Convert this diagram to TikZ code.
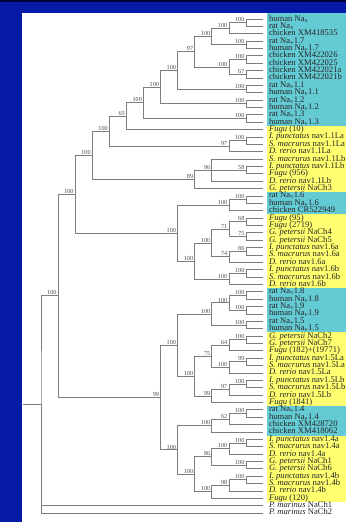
\documentclass[tikz,border=0pt]{standalone}
\usepackage{fontspec}
\setmainfont{Liberation Serif}
\usetikzlibrary{calc}

\definecolor{slideblue}{RGB}{6,26,168}
\definecolor{mammal}{RGB}{100,202,212}
\definecolor{fish}{RGB}{255,255,112}
\definecolor{branchgray}{RGB}{125,125,125}

\newcommand\Nav{Na\textsubscript{v}}
% clade: name, column, first child, last child, support
\newcommand\clade[5]{%
  \path let \p1=(#3), \p2=(#4) in coordinate (#1) at ({41+17.08*#2},{(\y1+\y2)/2});
  \draw[branch] (#3) -| (#1) |- (#4);
  \node[boot] at (#1) {#5};
}

\begin{document}
\begin{tikzpicture}[x=1pt, y=1pt,
    leaf/.style={anchor=west, inner xsep=6pt, inner ysep=0pt, outer sep=0pt,
      text height=5.5pt, text depth=1.5pt, font=\fontsize{8.6}{8.6}\selectfont, text=black!85},
    branch/.style={draw=branchgray, line width=0.75pt},
    boot/.style={anchor=south east, inner sep=0.6pt, xshift=-0.8pt,
      font=\fontsize{6.2}{6.2}\selectfont, text=black!70}]
    \useasboundingbox (0,0) rectangle (346,-522);

    % Draw the background
    \fill[slideblue] (0,0) rectangle (346,-522);
    \fill[black!80!blue] (0,0) rectangle (346,-1.5);
    \fill[white] (22,-13) rectangle (346,-522);

    % Coloured groups behind the names
    \fill[mammal] (267,-13) rectangle (346,-126);
    \fill[fish] (267,-126) rectangle (346,-192.3);
    \fill[mammal] (267,-192.3) rectangle (346,-214.3);
    \fill[fish] (267,-214.3) rectangle (346,-288.1);
    \fill[mammal] (267,-288.1) rectangle (346,-332.4);
    \fill[fish] (267,-332.4) rectangle (346,-406.1);
    \fill[mammal] (267,-406.1) rectangle (346,-435.6);
    \fill[fish] (267,-435.6) rectangle (346,-501.9);

    % Leaf names
    \foreach \name [count=\i] in {
      human Na\textsubscript{x}, rat Na\textsubscript{x}, chicken XM418535,
      rat \Nav1.7, human \Nav1.7, chicken XM422026, chicken XM422025,
      chicken XM422021a, chicken XM422021b, rat \Nav1.1, human \Nav1.1,
      rat \Nav1.2, human \Nav1.2, rat \Nav1.3, human \Nav1.3,
      \textit{Fugu} (10), \textit{I. punctatus} nav1.1La, \textit{S. macrurus} nav1.1La,
      \textit{D. rerio} nav1.1La, \textit{S. macrurus} nav1.1Lb, \textit{I. punctatus} nav1.1Lb,
      \textit{Fugu} (956), \textit{D. rerio} nav1.1Lb, \textit{G. petersii} NaCh3,
      rat \Nav1.6, human \Nav1.6, chicken CR522949,
      \textit{Fugu} (95), \textit{Fugu} (2719), \textit{G. petersii} NaCh4, \textit{G. petersii} NaCh5,
      \textit{I. punctatus} nav1.6a, \textit{S. macrurus} nav1.6a, \textit{D. rerio} nav1.6a,
      \textit{I. punctatus} nav1.6b, \textit{S. macrurus} nav1.6b, \textit{D. rerio} nav1.6b,
      rat \Nav1.8, human \Nav1.8, rat \Nav1.9, human \Nav1.9, rat \Nav1.5, human \Nav1.5,
      \textit{G. petersii} NaCh2, \textit{G. petersii} NaCh7, \textit{Fugu} (182)+(19771),
      \textit{I. punctatus} nav1.5La, \textit{S. macrurus} nav1.5La, \textit{D. rerio} nav1.5La,
      \textit{I. punctatus} nav1.5Lb, \textit{S. macrurus} nav1.5Lb, \textit{D. rerio} nav1.5Lb,
      \textit{Fugu} (1841), rat \Nav1.4, human \Nav1.4, chicken XM428720, chicken XM418062,
      \textit{I. punctatus} nav1.4a, \textit{S. macrurus} nav1.4a, \textit{D. rerio} nav1.4a,
      \textit{G. petersii} NaCh1, \textit{G. petersii} NaCh6,
      \textit{I. punctatus} nav1.4b, \textit{S. macrurus} nav1.4b, \textit{D. rerio} nav1.4b,
      \textit{Fugu} (120), \textit{P. marinus} NaCh1, \textit{P. marinus} NaCh2}
      \node[leaf] (l\i) at (263,{-19-(\i-1)*7.373}) {\name};

    % Nav1.1/1.2/1.3/1.7 and Na_x clade
    \clade{na1}{12}{l1}{l2}{100}
    \clade{na2}{11}{na1}{l3}{100}
    \clade{n45}{12}{l4}{l5}{100}
    \clade{nb1}{10}{na2}{n45}{100}
    \clade{n67}{12}{l6}{l7}{100}
    \clade{n89}{12}{l8}{l9}{67}
    \clade{nc1}{11}{n67}{n89}{100}
    \clade{nd1}{9}{nb1}{nc1}{97}
    \clade{n1011}{12}{l10}{l11}{100}
    \clade{ne1}{8}{nd1}{n1011}{100}
    \clade{n1213}{12}{l12}{l13}{100}
    \clade{nf1}{7}{ne1}{n1213}{100}
    \clade{n1415}{12}{l14}{l15}{100}
    \clade{ng1}{6}{nf1}{n1415}{100}
    \clade{nh1}{5}{ng1}{l16}{63}
    \clade{n1718}{12}{l17}{l18}{100}
    \clade{nj1}{11}{n1718}{l19}{97}
    \clade{ni1}{4}{nh1}{nj1}{100}
    \clade{n2122}{12}{l21}{l22}{58}
    \clade{nm1}{10}{l20}{l23}{96}
    \draw[branch] (nm1) |- (n2122);
    \clade{nl1}{9}{nm1}{l24}{89}
    \clade{nk1}{3}{ni1}{nl1}{100}

    % Nav1.6 clade
    \clade{n2526}{12}{l25}{l26}{100}
    \clade{nq1}{11}{n2526}{l27}{100}
    \clade{n2829}{12}{l28}{l29}{68}
    \clade{n3031}{12}{l30}{l31}{75}
    \clade{nu1}{11}{n2829}{n3031}{71}
    \clade{n3233}{12}{l32}{l33}{86}
    \clade{nv1}{11}{n3233}{l34}{74}
    \clade{ns1}{10}{nu1}{nv1}{100}
    \clade{n3536}{12}{l35}{l36}{100}
    \clade{nt1}{11}{n3536}{l37}{100}
    \clade{nr1}{9}{ns1}{nt1}{100}
    \clade{np1}{8}{nq1}{nr1}{100}
    \clade{nw1}{2}{nk1}{np1}{100}

    % Nav1.5/1.8/1.9 clade
    \clade{n3839}{12}{l38}{l39}{100}
    \clade{n4041}{12}{l40}{l41}{100}
    \clade{nab}{11}{n3839}{n4041}{100}
    \clade{n4243}{12}{l42}{l43}{100}
    \clade{naa}{10}{nab}{n4243}{100}
    \clade{n4445}{12}{l44}{l45}{100}
    \clade{nag}{11}{n4445}{l46}{64}
    \clade{n4748}{12}{l47}{l48}{99}
    \clade{nah}{11}{n4748}{l49}{100}
    \clade{nae}{10}{nag}{nah}{75}
    \clade{n5051}{12}{l50}{l51}{100}
    \clade{nai}{11}{n5051}{l52}{97}
    \clade{naf}{10}{nai}{l53}{99}
    \clade{nad}{9}{nae}{naf}{100}
    \clade{nac}{8}{naa}{nad}{100}

    % Nav1.4 clade
    \clade{n5455}{12}{l54}{l55}{100}
    \clade{nal}{11}{n5455}{l56}{62}
    \clade{nak}{10}{nal}{l57}{100}
    \clade{n5859}{12}{l58}{l59}{100}
    \clade{nap}{11}{n5859}{l60}{100}
    \clade{n6162}{12}{l61}{l62}{100}
    \clade{nan}{10}{nap}{n6162}{86}
    \clade{n6364}{12}{l63}{l64}{100}
    \clade{naq}{11}{n6364}{l65}{98}
    \clade{nao}{10}{naq}{l66}{100}
    \clade{nam}{9}{nan}{nao}{100}
    \clade{naj}{8}{nak}{nam}{100}
    \clade{nx1}{7}{nac}{naj}{99}

    % Root with the lamprey channels
    \clade{nin}{1}{nw1}{nx1}{100}
    \clade{root}{0}{nin}{l68}{}
    \draw[branch] (root) |- (l67);
    \coordinate (base) at (23,0);
    \draw[branch] (root) -- (root -| base);
\end{tikzpicture}
\end{document}
